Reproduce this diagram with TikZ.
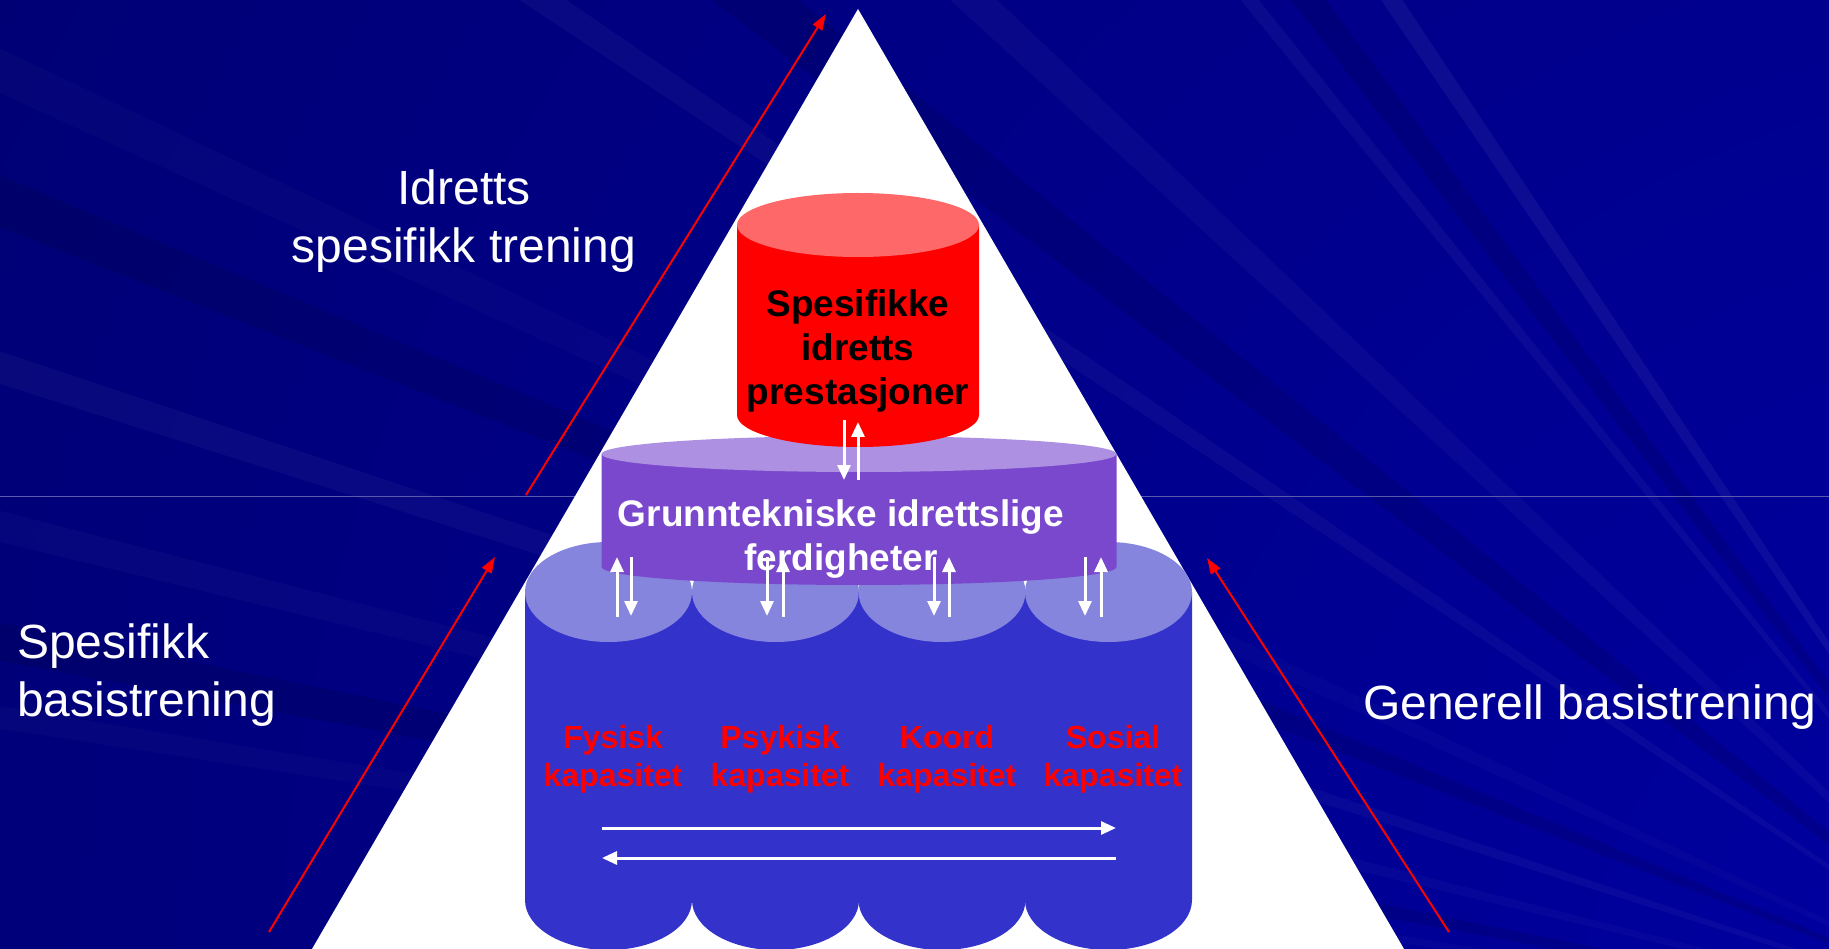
\documentclass[tikz,border=0pt]{standalone}
\usepackage{fontspec}
\setmainfont{Liberation Sans}
\usetikzlibrary{arrows.meta, calc}
\definecolor{bgdark}{HTML}{000046}
\definecolor{bglight}{HTML}{0000A4}
\definecolor{seam}{HTML}{5A5AAA}
\definecolor{redtop}{HTML}{FF6868}
\definecolor{purplebody}{HTML}{7A48CC}
\definecolor{purpletop}{HTML}{AE90E2}
\definecolor{bluebody}{HTML}{3333CC}
\definecolor{bluetop}{HTML}{8585DD}
% #1 centre x, #2 x radius, #3 top y, #4 bottom y, #5 y radius, #6 body, #7 top
\newcommand{\drum}[7]{%
  \fill[#6] (#1-#2,#3) -- (#1-#2,#4) arc[start angle=180, end angle=360, x radius=#2pt, y radius=#5pt] -- (#1+#2,#3) -- cycle;
  \fill[#7] (#1,#3) ellipse[x radius=#2pt, y radius=#5pt];
}

\begin{document}
\begin{tikzpicture}[x=1pt, y=-1pt, every node/.style={align=center, inner sep=0pt}]
  \tikzset{lbl/.style={text=white, font=\fontsize{48}{58}\selectfont},
    boldlbl/.style={font=\bfseries\fontsize{37}{44}\selectfont},
    kap/.style={text=red, font=\bfseries\fontsize{32}{38}\selectfont},
    wlink/.style={white, line width=3pt, -{Triangle[length=15pt, width=13pt]}},
    rlink/.style={red, line width=2pt, -{Triangle[length=16pt, width=11pt]}}}
  \useasboundingbox (0,0) rectangle (1829,949);
  % background with rays
  \begin{scope}
    \clip (0,0) rectangle (1829,949);
    \shade[inner color=bglight, outer color=bgdark] (2100,1050) circle[radius=4700pt];
    \foreach \a/\w/\o in {124/0.4/0.05, 129/0.3/0.04, 137/0.6/0.03, 146/0.4/0.035, 155/0.5/0.02, 162/0.4/0.035, 166/0.4/0.025, 171/0.3/0.02}
      \fill[white, opacity=\o] (2100,1050) -- +(\a-\w:3200pt) -- +(\a+\w:3200pt) -- cycle;
    \foreach \a/\w in {127/0.6, 142/0.9, 158/0.6, 169/0.5}
      \fill[black, opacity=0.10] (2100,1050) -- +(\a-\w:3200pt) -- +(\a+\w:3200pt) -- cycle;
    \draw[seam, line width=1pt] (0,496) -- (1829,496);
  \end{scope}
  \fill[white] (858,9) -- (312,949) -- (1404,949) -- cycle;

  % red arrows along the sides
  \coordinate (r1s) at (269,932);  \coordinate (r1e) at (495,557);
  \coordinate (r2s) at (526,495);  \coordinate (r2e) at (826,14);
  \coordinate (r3s) at (1449,932); \coordinate (r3e) at (1207,558);
  \draw[rlink] (r1s) -- (r1e);
  \draw[rlink] (r2s) -- (r2e);
  \draw[rlink] (r3s) -- (r3e);

  % cylinders
  \foreach \cx in {608.5, 775.5, 942, 1108.5} {
    \drum{\cx}{83.5}{592}{900}{50}{bluebody}{bluetop}
  }
  \drum{859}{257.5}{454}{567}{18}{purplebody}{purpletop}
  \drum{858}{121}{225}{415}{32}{red}{redtop}

  % labels (base = last line)
  \node[lbl, anchor=base] (idr) at (464,263) {Idretts\\spesifikk trening};
  \node[lbl, anchor=base west, align=left] (spb) at (17,716) {Spesifikk\\basistrening};
  \node[lbl, anchor=base west] (gen) at (1363,719) {Generell basistrening};
  \node[boldlbl, anchor=base] (top) at (858,405) {Spesifikke\\idretts\\prestasjoner};
  \node[boldlbl, text=white, anchor=base] (mid) at (841,570) {Grunntekniske idrettslige\\ferdigheter};
  \foreach \cx/\nm [count=\i] in {613/Fysisk, 780/Psykisk, 947/Koord, 1113/Sosial}
    \node[kap, anchor=base] (kap\i) at (\cx,786) {\nm\\kapasitet};

  % white arrows
  \coordinate (t1) at (844,420); \coordinate (t2) at (844,480);
  \coordinate (t3) at (858,480); \coordinate (t4) at (858,422);
  \draw[wlink] (t1) -- (t2);
  \draw[wlink] (t3) -- (t4);
  \foreach \xd/\xu [count=\i] in {631/617, 767/783, 934/949, 1085/1101} {
    \coordinate (d\i a) at (\xd,557); \coordinate (d\i b) at (\xd,616);
    \coordinate (u\i a) at (\xu,617); \coordinate (u\i b) at (\xu,557);
    \draw[wlink] (d\i a) -- (d\i b);
    \draw[wlink] (u\i a) -- (u\i b);
  }
  \coordinate (h1) at (602,828); \coordinate (h2) at (1116,828);
  \coordinate (h3) at (1116,858); \coordinate (h4) at (602,858);
  \draw[wlink] (h1) -- (h2);
  \draw[wlink] (h3) -- (h4);
\end{tikzpicture}
\end{document}
